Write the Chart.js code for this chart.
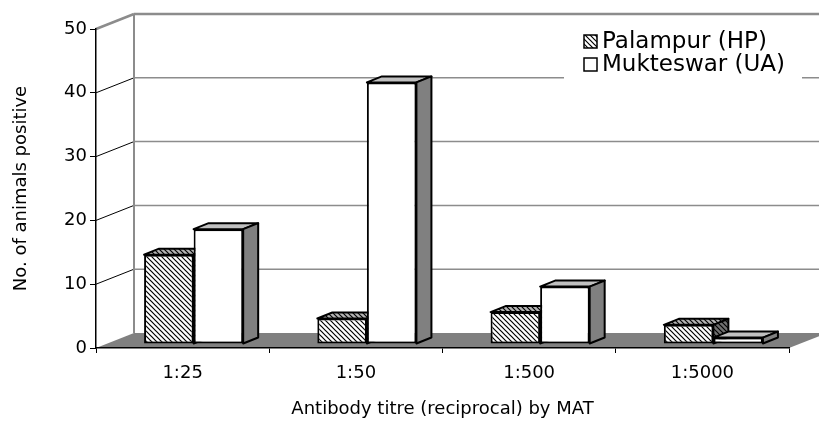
<!DOCTYPE html>
<html>
<head>
<meta charset="utf-8">
<script src="https://cdn.jsdelivr.net/npm/chart.js@4.4.0/dist/chart.umd.min.js"></script>
<style>
  html, body { margin: 0; padding: 0; background: #fff; }
</style>
</head>
<body>
<canvas id="titreChart" width="819" height="421"></canvas>
<script>
// data
var titres = ['1:25', '1:50', '1:500', '1:5000'];
var palampur = [14, 4, 5, 3];
var mukteswar = [18, 41, 9, 1];
var seriesNames = ['Palampur (HP)', 'Mukteswar (UA)'];
var yTicks = [0, 10, 20, 30, 40, 50];

// fake 3D look (offsets of the back wall, of the bars and of the bar depth)
var wallDX = 38, wallDY = -15;
var barDX = 11, barDY = -4;
var faceDX = 15, faceDY = -6;
var FONT = 'DejaVu Sans';

function makeHatch(bg, fg) {
  var c = document.createElement('canvas');
  c.width = 5; c.height = 5;
  var g = c.getContext('2d');
  g.fillStyle = bg;
  g.fillRect(0, 0, 5, 5);
  g.strokeStyle = fg;
  g.lineWidth = 1.2;
  g.beginPath();
  for (var k = -1; k <= 1; k++) {
    g.moveTo(k * 5 - 1, -1);
    g.lineTo(k * 5 + 6, 6);
  }
  g.stroke();
  return g.createPattern(c, 'repeat');
}

var hatchFront = makeHatch('#ffffff', '#000000');
var hatchTop = makeHatch('#b4b4b4', '#000000');
var hatchSide = makeHatch('#707070', '#000000');

var faceColours = [
  { top: hatchTop, side: hatchSide },
  { top: '#c0c0c0', side: '#808080' }
];

var box3d = {
  id: 'box3d',
  beforeDraw: function(chart) {
    var ctx = chart.ctx, a = chart.chartArea, ys = chart.scales.y;
    var y0 = ys.getPixelForValue(0);
    ctx.save();
    ctx.fillStyle = '#fff';
    ctx.fillRect(0, 0, chart.width, chart.height);

    // floor
    ctx.fillStyle = '#808080';
    ctx.beginPath();
    ctx.moveTo(a.left, y0);
    ctx.lineTo(a.right, y0);
    ctx.lineTo(a.right + wallDX, y0 + wallDY);
    ctx.lineTo(a.left + wallDX, y0 + wallDY);
    ctx.closePath();
    ctx.fill();

    // back wall grid
    yTicks.forEach(function(v) {
      if (v === 0) return;
      var py = ys.getPixelForValue(v);
      var isTop = v === ys.max;
      ctx.strokeStyle = isTop ? '#8c8c8c' : '#000';
      ctx.lineWidth = isTop ? 2.5 : 1;
      ctx.beginPath();
      ctx.moveTo(a.left, py);
      ctx.lineTo(a.left + wallDX, py + wallDY);
      ctx.stroke();
      ctx.strokeStyle = '#8c8c8c';
      ctx.lineWidth = isTop ? 2.5 : 1.5;
      ctx.beginPath();
      ctx.moveTo(a.left + wallDX, py + wallDY);
      ctx.lineTo(chart.width, py + wallDY);
      ctx.stroke();
    });
    ctx.strokeStyle = '#8c8c8c';
    ctx.lineWidth = 2;
    ctx.beginPath();
    ctx.moveTo(a.left + wallDX, y0 + wallDY);
    ctx.lineTo(a.left + wallDX, ys.getPixelForValue(ys.max) + wallDY);
    ctx.stroke();
    ctx.restore();
  },
  beforeDatasetsDraw: function(chart) {
    var ctx = chart.ctx;
    ctx.save();
    ctx.translate(barDX, barDY);
    ctx.strokeStyle = '#000';
    ctx.lineWidth = 2;
    ctx.lineJoin = 'round';
    var metas = [chart.getDatasetMeta(0), chart.getDatasetMeta(1)];
    for (var j = 0; j < titres.length; j++) {
      for (var d = 0; d < metas.length; d++) {
        var bar = metas[d].data[j];
        var l = bar.x - bar.width / 2, r = bar.x + bar.width / 2;
        var t = bar.y, b = bar.base;
        // top face
        ctx.fillStyle = faceColours[d].top;
        ctx.beginPath();
        ctx.moveTo(l, t);
        ctx.lineTo(l + faceDX, t + faceDY);
        ctx.lineTo(r + faceDX, t + faceDY);
        ctx.lineTo(r, t);
        ctx.closePath();
        ctx.fill();
        ctx.stroke();
        // side face
        ctx.fillStyle = faceColours[d].side;
        ctx.beginPath();
        ctx.moveTo(r, t);
        ctx.lineTo(r + faceDX, t + faceDY);
        ctx.lineTo(r + faceDX, b + faceDY);
        ctx.lineTo(r, b);
        ctx.closePath();
        ctx.fill();
        ctx.stroke();
      }
    }
  },
  afterDatasetsDraw: function(chart) {
    chart.ctx.restore();
  },
  afterDraw: function(chart) {
    // legend, drawn by hand so it can sit inside the plot like Excel's
    var ctx = chart.ctx;
    var fills = [hatchFront, '#ffffff'];
    ctx.save();
    ctx.fillStyle = '#fff';
    ctx.fillRect(564, 24, 238, 62);
    ctx.font = '23px "' + FONT + '"';
    ctx.textBaseline = 'middle';
    seriesNames.forEach(function(name, i) {
      var cy = 41 + i * 23;
      ctx.fillStyle = fills[i];
      ctx.fillRect(584, cy - 6, 13, 13);
      ctx.strokeStyle = '#000';
      ctx.lineWidth = 1.5;
      ctx.strokeRect(584, cy - 6, 13, 13);
      ctx.fillStyle = '#000';
      ctx.fillText(name, 602, cy + 1);
    });
    ctx.restore();
  }
};

Chart.defaults.font.family = FONT;
Chart.defaults.color = '#000';

new Chart(document.getElementById('titreChart'), {
  type: 'bar',
  data: {
    labels: titres,
    datasets: [{
      label: seriesNames[0],
      data: palampur,
      backgroundColor: hatchFront,
      borderColor: '#000',
      borderWidth: 2,
      borderSkipped: false,
      clip: false
    }, {
      label: seriesNames[1],
      data: mukteswar,
      backgroundColor: '#ffffff',
      borderColor: '#000',
      borderWidth: 2,
      borderSkipped: false,
      clip: false
    }]
  },
  options: {
    responsive: false,
    devicePixelRatio: 1,
    animation: false,
    layout: { padding: { top: 29, right: 30, left: 0, bottom: 0 } },
    datasets: { bar: { barPercentage: 1, categoryPercentage: 0.572 } },
    plugins: { legend: { display: false }, tooltip: { enabled: false } },
    scales: {
      x: {
        grid: { drawOnChartArea: false, tickLength: 5, color: '#000', offset: true },
        border: { color: '#000', width: 1.5 },
        ticks: { font: { size: 18 }, padding: 10 },
        title: { display: true, text: 'Antibody titre (reciprocal) by MAT', font: { size: 18 }, padding: { top: 0, bottom: 1 } },
        afterFit: function(s) { s.height = 73; }
      },
      y: {
        min: 0,
        max: 50,
        ticks: { stepSize: 10, font: { size: 18 }, padding: 3 },
        grid: { drawOnChartArea: false, tickLength: 6, color: '#000' },
        border: { color: '#000', width: 1.5 },
        title: { display: true, text: 'No. of animals positive', font: { size: 18 }, padding: { top: 11, bottom: 0 } },
        afterFit: function(s) { s.width = 96; }
      }
    }
  },
  plugins: [box3d]
});
</script>
</body>
</html>
